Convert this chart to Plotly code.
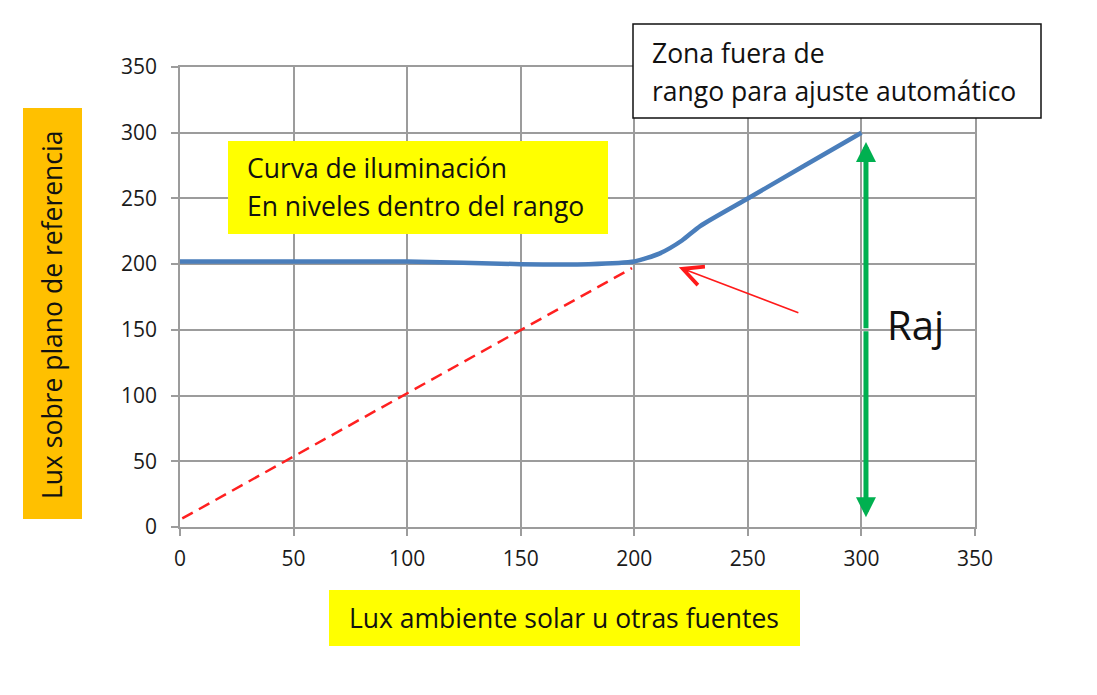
import plotly.graph_objects as go

# ---- data ----
x_ticks = [0, 50, 100, 150, 200, 250, 300, 350]
y_ticks = [0, 50, 100, 150, 200, 250, 300, 350]

curve_x = [0, 50, 100, 150, 180, 200, 211, 221, 229, 250, 275, 300]
curve_y = [202, 202, 202, 200, 200, 202, 208, 218, 229, 250, 275, 300]

ref_x = [1, 199]
ref_y = [6.5, 197]

# annotation arrow anchors (data units)
raj_x = 302
raj_top = 293
raj_bottom = 7.5
raj_mid = 150
red_head = (219.6, 197.6)
red_tail = (272.9, 162.6)

FONT = "Open Sans"
GRID = "#9c9c9c"

fig = go.Figure()
fig.add_trace(go.Scatter(x=ref_x, y=ref_y, mode="lines",
                         line=dict(color="#ff2020", width=2.5, dash="12px,7px"),
                         hoverinfo="skip"))
fig.add_trace(go.Scatter(x=curve_x, y=curve_y, mode="lines",
                         line=dict(color="#4a7ebb", width=4.5, shape="spline", smoothing=0.6),
                         hoverinfo="skip"))

axis_common = dict(range=[0, 350], tickvals=x_ticks, showgrid=True, gridcolor=GRID, gridwidth=1.5,
                   showline=True, linecolor=GRID, linewidth=1.5, mirror=True,
                   ticks="outside", ticklen=7, tickcolor=GRID, tickwidth=1.5,
                   zeroline=False, tickfont=dict(family=FONT, size=21, color="#1a1a1a"))
fig.update_xaxes(**axis_common, ticklabelstandoff=5)
fig.update_yaxes(**{**axis_common, "tickvals": y_ticks}, ticklabelstandoff=10)

def px(xp):
    return (xp - 180) / 795.0

def py(yp):
    return (527 - yp) / 460.0

shapes = [
    dict(type="rect", xref="paper", yref="paper", x0=px(23), x1=px(82), y0=py(519), y1=py(108),
         fillcolor="#ffc000", line=dict(width=0), layer="above"),
    dict(type="rect", xref="paper", yref="paper", x0=px(329), x1=px(800), y0=py(646), y1=py(590),
         fillcolor="#ffff00", line=dict(width=0), layer="above"),
    dict(type="rect", xref="paper", yref="paper", x0=px(228), x1=px(608), y0=py(234), y1=py(141),
         fillcolor="#ffff00", line=dict(width=0), layer="above"),
    dict(type="rect", xref="paper", yref="paper", x0=px(633), x1=px(1041), y0=py(118), y1=py(24),
         fillcolor="white", line=dict(width=1.5, color="#111"), layer="above"),
]

tf = dict(family=FONT, size=26.5, color="#111")
annotations = [
    dict(text="Lux sobre plano de referencia", textangle=-90, xref="paper", yref="paper",
         x=px(52), y=py(315), xanchor="center", yanchor="middle", showarrow=False, font=tf),
    dict(text="Lux ambiente solar u otras fuentes", xref="paper", yref="paper",
         x=px(564), y=py(618), xanchor="center", yanchor="middle", showarrow=False, font=tf),
    dict(text="Curva de iluminación", xref="paper", yref="paper",
         x=px(245), y=py(168), xanchor="left", yanchor="middle", showarrow=False, font=tf),
    dict(text="En niveles dentro del rango", xref="paper", yref="paper",
         x=px(245), y=py(206), xanchor="left", yanchor="middle", showarrow=False, font=tf),
    dict(text="Zona fuera de", xref="paper", yref="paper",
         x=px(650), y=py(53), xanchor="left", yanchor="middle", showarrow=False, font=tf),
    dict(text="rango para ajuste automático", xref="paper", yref="paper",
         x=px(650), y=py(91), xanchor="left", yanchor="middle", showarrow=False, font=tf),
    dict(text="Raj", xref="paper", yref="paper",
         x=px(885), y=py(324), xanchor="left", yanchor="middle", showarrow=False,
         font=dict(family=FONT, size=40, color="#111")),
    # green double arrow
    dict(x=raj_x, y=raj_top, ax=raj_x, ay=raj_mid, xref="x", yref="y", axref="x", ayref="y",
         text="", showarrow=True, arrowhead=2, arrowsize=0.8, arrowwidth=5, arrowcolor="#00b050",
         standoff=0, startstandoff=0),
    dict(x=raj_x, y=raj_bottom, ax=raj_x, ay=raj_mid, xref="x", yref="y", axref="x", ayref="y",
         text="", showarrow=True, arrowhead=2, arrowsize=0.8, arrowwidth=5, arrowcolor="#00b050",
         standoff=0, startstandoff=0),
    # red arrow
    dict(x=red_head[0], y=red_head[1], ax=red_tail[0], ay=red_tail[1], xref="x", yref="y",
         axref="x", ayref="y", text="", showarrow=True, arrowhead=5, arrowsize=2.6,
         arrowwidth=1.5, arrowcolor="#ff1a1a", standoff=0),
]

# page body has an 8px default margin, so the figure is sized to fit inside the window
fig.update_layout(
    width=1089, height=687,
    margin=dict(l=172, r=122, t=59, b=168),
    plot_bgcolor="white", paper_bgcolor="white",
    showlegend=False,
    shapes=shapes, annotations=annotations,
)

fig.write_html("out.html")
